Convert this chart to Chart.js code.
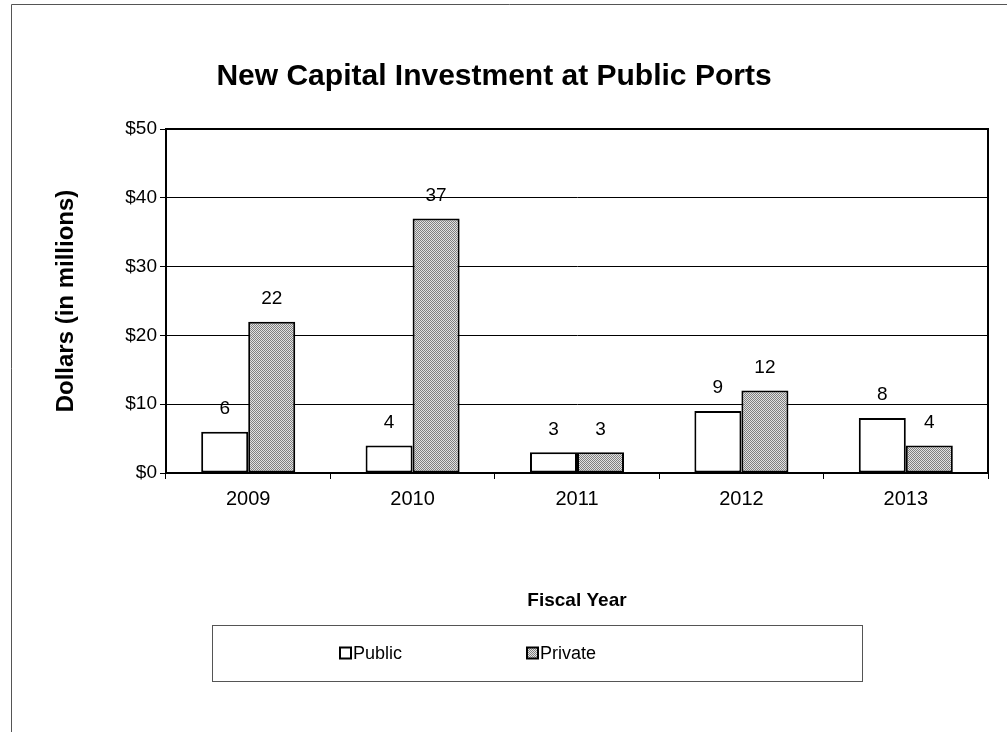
<!DOCTYPE html>
<html>
<head>
<meta charset="utf-8">
<script src="https://cdn.jsdelivr.net/npm/chart.js@4/dist/chart.umd.min.js"></script>
<style>
  html, body { margin: 0; padding: 0; background: #fff; }
  #wrap { position: relative; width: 1007px; height: 732px; }
  canvas { display: block; }
</style>
</head>
<body>
<div id="wrap"><canvas id="c" width="1007" height="732"></canvas></div>
<script>
// ---- data ----
const categories = ['2009', '2010', '2011', '2012', '2013'];
const publicValues = [6, 4, 3, 9, 8];
const privateValues = [22, 37, 3, 12, 4];
const seriesNames = ['Public', 'Private'];
const yTickValues = [0, 10, 20, 30, 40, 50];
const chartTitle = 'New Capital Investment at Public Ports';
const xTitle = 'Fiscal Year';
const yTitle = 'Dollars (in millions)';

const FONT = "'Liberation Sans', Arial, sans-serif";
Chart.defaults.font.family = FONT;
Chart.defaults.color = '#000';

// dotted gray pattern for "Private"
function makePattern() {
  const p = document.createElement('canvas');
  p.width = 2; p.height = 2;
  const g = p.getContext('2d');
  g.fillStyle = '#e2e2e2'; g.fillRect(0, 0, 2, 2);
  g.fillStyle = '#808080'; g.fillRect(0, 0, 1, 1); g.fillRect(1, 1, 1, 1);
  return g.createPattern(p, 'repeat');
}
const ctx = document.getElementById('c').getContext('2d');
const privatePattern = makePattern();

const frame = {
  id: 'frame',
  beforeDraw(chart) {
    const c = chart.ctx;
    c.save();
    c.strokeStyle = '#555';
    c.lineWidth = 1;
    c.beginPath();
    c.moveTo(11.5, 732); c.lineTo(11.5, 4.5); c.lineTo(1007, 4.5);
    c.stroke();
    c.restore();
  },
  afterDatasetsDraw(chart) {
    const c = chart.ctx;
    const a = chart.chartArea;
    c.save();
    // plot border
    c.strokeStyle = '#000';
    c.lineWidth = 2;
    c.strokeRect(a.left, a.top, a.right - a.left, a.bottom - a.top);
    // data labels
    c.fillStyle = '#000';
    c.font = '19px ' + FONT;
    c.textAlign = 'center';
    c.textBaseline = 'middle';
    chart.data.datasets.forEach((ds, i) => {
      const meta = chart.getDatasetMeta(i);
      meta.data.forEach((bar, j) => {
        c.fillText(String(ds.data[j]), bar.x, bar.y - 23);
      });
    });
    // legend (boxed, like the original)
    const lx0 = a.left + 46, lx1 = a.right - 126;
    const ly0 = a.bottom + 152, ly1 = a.bottom + 208;
    c.strokeStyle = '#555';
    c.lineWidth = 1;
    c.strokeRect(Math.round(lx0) + 0.5, Math.round(ly0) + 0.5, lx1 - lx0, ly1 - ly0);
    const cy = (ly0 + ly1) / 2;
    const itemX = [a.left + 174, a.left + 361];
    chart.data.datasets.forEach((ds, i) => {
      const x = itemX[i];
      c.fillStyle = ds.backgroundColor;
      c.fillRect(x, cy - 5.5, 11, 11);
      c.strokeStyle = '#000';
      c.lineWidth = 2;
      c.strokeRect(x, cy - 5.5, 11, 11);
      c.fillStyle = '#000';
      c.font = '18px ' + FONT;
      c.textAlign = 'left';
      c.textBaseline = 'middle';
      c.fillText(ds.label, x + 13, cy + 1);
    });
    c.restore();
  }
};

new Chart(ctx, {
  type: 'bar',
  data: {
    labels: categories,
    datasets: [
      {
        label: seriesNames[0],
        data: publicValues,
        backgroundColor: '#ffffff',
        borderColor: '#000',
        borderWidth: 2,
        borderSkipped: false,
        categoryPercentage: 0.572,
        barPercentage: 1.0
      },
      {
        label: seriesNames[1],
        data: privateValues,
        backgroundColor: privatePattern,
        borderColor: '#000',
        borderWidth: 2,
        borderSkipped: false,
        categoryPercentage: 0.572,
        barPercentage: 1.0
      }
    ]
  },
  options: {
    responsive: false,
    animation: false,
    events: [],
    layout: { padding: { left: 0, right: 19, top: 0, bottom: 120 } },
    plugins: {
      legend: { display: false },
      tooltip: { enabled: false },
      title: {
        display: true,
        text: chartTitle,
        color: '#000',
        font: { size: 30, weight: 'bold', family: FONT },
        padding: { top: 59, bottom: 34 }
      }
    },
    scales: {
      x: {
        grid: {
          display: true,
          drawOnChartArea: false,
          drawTicks: true,
          tickLength: 6,
          color: '#000',
          offset: true
        },
        border: { display: true, color: '#000', width: 2 },
        ticks: { font: { size: 20 }, color: '#000', padding: 8 },
        title: {
          display: true,
          text: xTitle,
          color: '#000',
          font: { size: 19, weight: 'bold' },
          padding: { top: 0, bottom: 0 }
        },
        afterFit(s) { s.height = 139; }
      },
      y: {
        min: 0,
        max: 50,
        afterBuildTicks(s) { s.ticks = yTickValues.map(v => ({ value: v })); },
        grid: {
          color: '#000',
          lineWidth: 1,
          drawTicks: true,
          tickLength: 6
        },
        border: { display: true, color: '#000', width: 2 },
        ticks: {
          font: { size: 19 },
          color: '#000',
          padding: 3,
          callback: v => '$' + v
        },
        title: {
          display: true,
          text: yTitle,
          color: '#000',
          font: { size: 24, weight: 'bold' },
          padding: { top: 52, bottom: 0 }
        },
        afterFit(s) { s.width = 166; }
      }
    }
  },
  plugins: [frame]
});
</script>
</body>
</html>
